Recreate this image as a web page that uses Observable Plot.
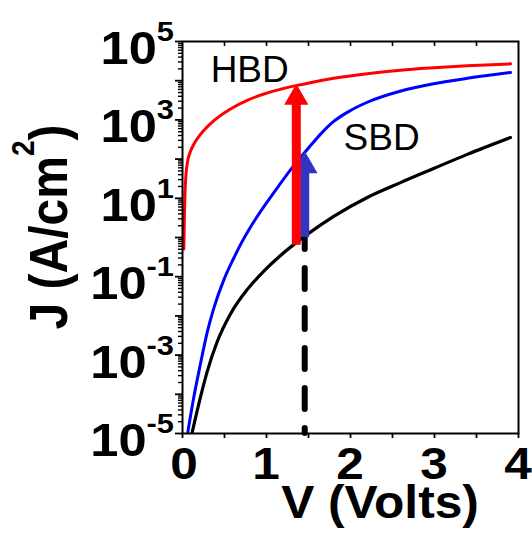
<!DOCTYPE html>
<html><head><meta charset="utf-8">
<script src="https://cdn.jsdelivr.net/npm/d3@7"></script>
<script src="https://cdn.jsdelivr.net/npm/@observablehq/plot@0.6"></script>
<style>body{margin:0;background:#fff}</style>
</head><body><div id="chart"></div>
<script>
// ---- data ----
const hbdV = [0.016, 0.022, 0.030, 0.042, 0.060, 0.095, 0.135, 0.214, 0.373, 0.571, 0.770, 0.968, 1.167, 1.365, 1.520, 1.800, 2.200, 2.595, 2.990, 3.390, 3.905];
const hbdJ = [0.51, 3.16, 14.1, 41.7, 85, 158, 240, 427, 955, 1905, 3160, 4570, 6030, 7590, 8910, 11500, 15100, 18600, 21400, 24000, 26900];

const blueV = [0.063, 0.135, 0.214, 0.294, 0.373, 0.492, 0.611, 0.700, 0.810, 1.000, 1.150, 1.320, 1.515, 1.650, 1.800, 2.000, 2.200, 2.590, 2.990, 3.390, 3.905];
const blueJ = [1.07e-5, 8.5e-5, 6.0e-4, 3.8e-3, 0.0158, 0.083, 0.30, 0.72, 1.86, 7.6, 21.4, 66, 209, 447, 912, 1740, 2820, 5370, 8320, 11500, 16200];

const sbdV = [0.115, 0.214, 0.294, 0.413, 0.571, 0.770, 0.968, 1.167, 1.485, 1.800, 2.200, 2.595, 2.990, 3.390, 3.905];
const sbdJ = [1.07e-5, 8.5e-5, 3.8e-4, 2.19e-3, 0.0112, 0.0468, 0.138, 0.347, 1.20, 3.47, 10.5, 25.1, 57.5, 132, 355];

const arrowRed = {v: 1.355, bottom: 0.63, base: 2570};
const arrowBlue = {v: 1.455, bottom: 1.0, base: 46};
const dashV = 1.455, dashTop = 1.0;

const curveLabels = [{v: 0.80, j: 18200, text: "HBD"}, {v: 2.37, j: 340, text: "SBD"}];

const yLabelExponents = [5, 3, 1, -1, -3, -5];
const yDecades = [1e-5, 1e-4, 1e-3, 1e-2, 1e-1, 1, 1e1, 1e2, 1e3, 1e4, 1e5];
const yMinor = [];
for (const d of yDecades.slice(0, -1)) for (const m of [2,3,4,5,6,7,8,9]) yMinor.push(m * d);
const xLabelTicks = [0, 1, 2, 3, 4];
const xHalfTicks = [0, 0.5, 1, 1.5, 2, 2.5, 3, 3.5, 4];
const xTopTicks = [0.5, 1, 1.5, 2, 2.5, 3, 3.5];

const toRows = (vs, js) => vs.map((v, i) => ({v, j: js[i]}));
const hbd = toRows(hbdV, hbdJ), blue = toRows(blueV, blueJ), sbd = toRows(sbdV, sbdJ);

const font = "'Liberation Sans', Arial, Helvetica, sans-serif";

const chart = Plot.plot({
  width: 532, height: 534,
  marginLeft: 182, marginRight: 14, marginTop: 41, marginBottom: 101,
  style: {fontFamily: font, background: "white", color: "black", overflow: "visible"},
  x: {domain: [0, 4]},
  y: {type: "log", domain: [1e-5, 1e5]},
  marks: [
    Plot.axisY(yDecades, {tickSize: 7, strokeWidth: 1.8, tickFormat: () => "", label: null}),
    Plot.axisY(yMinor, {tickSize: 4, strokeWidth: 1.4, tickFormat: () => "", label: null}),
    Plot.axisX(xHalfTicks, {tickSize: 5, strokeWidth: 1.8, tickFormat: () => "", label: null}),
    Plot.axisX(xTopTicks, {anchor: "top", tickSize: -4, strokeWidth: 1.6, tickFormat: () => "", label: null}),
    Plot.line(sbd, {x: "v", y: "j", stroke: "black", strokeWidth: 3.2, curve: "monotone-x"}),
    Plot.line(blue, {x: "v", y: "j", stroke: "#0000ff", strokeWidth: 3, curve: "monotone-x"}),
    Plot.line(hbd, {x: "v", y: "j", stroke: "#ff0000", strokeWidth: 3, curve: "monotone-x"}),
    Plot.ruleX([dashV], {x: d => d, y1: 1e-5, y2: dashTop, stroke: "black", strokeWidth: 6,
      strokeDasharray: "21,19", strokeDashoffset: 16, strokeLinecap: "round"}),
    Plot.ruleX([arrowBlue], {x: "v", y1: "bottom", y2: "base", stroke: "#3333c4", strokeWidth: 9}),
    Plot.dot([arrowBlue], {x: "v", y: "base", symbol: "triangle", r: 9.5, fill: "#3333c4", dy: -6.5}),
    Plot.ruleX([arrowRed], {x: "v", y1: "bottom", y2: "base", stroke: "#ff0000", strokeWidth: 9}),
    Plot.dot([arrowRed], {x: "v", y: "base", symbol: "triangle", r: 9, fill: "#ff0000", dy: -6}),
    Plot.text(curveLabels, {x: "v", y: "j", text: "text", fontSize: 37, fill: "black", fontFamily: font}),
    Plot.frame({stroke: "black", strokeWidth: 2})
  ]
});

document.getElementById("chart").appendChild(chart);

// tick labels with superscripts, placed through Plot's scales
const svg = d3.select(chart);
const xs = chart.scale("x"), ys = chart.scale("y");
const g = svg.append("g").attr("font-family", font).attr("font-weight", "bold").attr("fill", "black");

for (const e of yLabelExponents) {
  const py = ys.apply(Math.pow(10, e));
  const t = g.append("text").attr("text-anchor", "end")
    .attr("transform", `translate(174,${py + 23}) scale(1.1,1)`);
  t.append("tspan").attr("font-size", 46).text("10");
  t.append("tspan").attr("font-size", 28).attr("dy", -23).text(String(e));
}
for (const v of xLabelTicks) {
  const px = xs.apply(v);
  g.append("text").attr("text-anchor", "middle").attr("font-size", 45)
    .attr("transform", `translate(${px + (v === 0 ? 2 : 0)},479) scale(1.1,1)`).text(String(v));
}
g.append("text").attr("text-anchor", "middle").attr("font-size", 46)
  .attr("transform", "translate(380,518) scale(1.08,1)").text("V (Volts)");
const yl = g.append("text").attr("text-anchor", "middle").attr("font-size", 48)
  .attr("transform", "translate(67,227) scale(1.1,1) rotate(-90)");
yl.append("tspan").text("J (A/cm");
yl.append("tspan").attr("font-size", 28).attr("dy", -30).text("2");
yl.append("tspan").attr("dy", 30).text(")");
</script>
</body></html>
